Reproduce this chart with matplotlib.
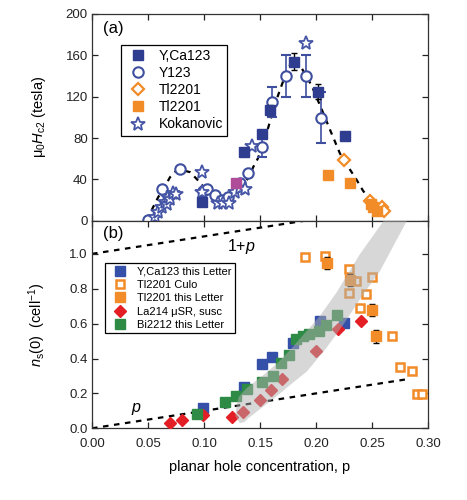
import matplotlib
matplotlib.use('Agg')
import matplotlib.pyplot as plt
from matplotlib.lines import Line2D

plt.rcParams['font.family'] = ['Liberation Sans', 'DejaVu Sans']
plt.rcParams['mathtext.fontset'] = 'custom'
plt.rcParams['mathtext.rm'] = 'Liberation Sans'
plt.rcParams['mathtext.it'] = 'Liberation Sans:italic'

# ---- panel (a): upper critical field ----
yca_p = [0.098, 0.136, 0.152, 0.159, 0.1806, 0.2018, 0.226]
yca_h = [18.4, 66, 84, 107, 154, 125, 82]
yca_err = [3, 0, 4, 5, 8, 7, 0]

odd_p = [0.129]
odd_h = [36.2]

y123_p = [0.0503, 0.0622, 0.0786, 0.0994, 0.1024, 0.110, 0.1158, 0.1217, 0.132, 0.1396,
          0.152, 0.161, 0.1732, 0.191, 0.2045]
y123_h = [0.7, 30.4, 50, 29, 30.4, 24.9, 20, 23.2, 36.2, 45.9,
          71, 115, 140, 140, 99.7]
y123_err = [0, 0, 0, 0, 0, 0, 0, 0, 0, 0, 9, 14.5, 20, 20, 25]

tl_open_p = [0.225, 0.248, 0.2586, 0.2607]
tl_open_h = [59, 19.4, 13, 9]
tl_fill_p = [0.2104, 0.230, 0.249, 0.251, 0.2548]
tl_fill_h = [44.3, 36, 16, 13, 9.7]

kok_p = [0.0563, 0.0590, 0.0622, 0.0650, 0.0670, 0.0682, 0.0700, 0.0726, 0.0750,
         0.098, 0.098, 0.1128, 0.117, 0.1226, 0.128, 0.132, 0.1366, 0.1426, 0.191]
kok_h = [3.9, 8.7, 13.6, 18.4, 16, 23.2, 21, 26.5, 26,
         47.4, 28, 16.8, 16.8, 16.8, 28, 31.3, 30.4, 72.6, 172]

guide_p = [0.050, 0.053, 0.059, 0.065, 0.0696, 0.074, 0.078, 0.082, 0.0875, 0.092, 0.0964,
           0.100, 0.105, 0.110, 0.115, 0.120, 0.125, 0.130, 0.135, 0.140, 0.144, 0.148,
           0.152, 0.156, 0.1634, 0.168, 0.174, 0.180, 0.187, 0.196, 0.2065, 0.2125,
           0.2214, 0.2288, 0.236, 0.242, 0.251, 0.258]
guide_h = [0, 9.7, 22.6, 33, 42, 47, 49, 48.5, 47, 42, 37,
           32, 28, 25, 23, 23, 25, 29, 35, 42, 52, 60,
           72, 85, 113, 127, 145, 157, 148, 131, 104, 88,
           65, 52, 40, 29, 16, 10]

# ---- panel (b): superfluid density ----
ycab_p = [0.0988, 0.1357, 0.1515, 0.1604, 0.1798, 0.2036, 0.225]
ycab_n = [0.118, 0.236, 0.37, 0.406, 0.489, 0.613, 0.603]

culo_p = [0.1902, 0.208, 0.2298, 0.2354, 0.2295, 0.2503, 0.2446, 0.2396, 0.2676,
          0.2753, 0.2854, 0.2899, 0.2949]
culo_n = [0.98, 0.986, 0.916, 0.847, 0.776, 0.866, 0.77, 0.687, 0.529,
          0.35, 0.329, 0.196, 0.196]

tlb_p = [0.210, 0.2304, 0.2503, 0.254]
tlb_n = [0.948, 0.848, 0.676, 0.527]
tlb_err = [0.036, 0.034, 0.035, 0.036]

la_p = [0.0696, 0.080, 0.0994, 0.1247, 0.1345, 0.150, 0.1595, 0.170, 0.1997, 0.22, 0.2399]
la_n = [0.029, 0.048, 0.076, 0.067, 0.096, 0.163, 0.22, 0.282, 0.444, 0.569, 0.617]

bi_p = [0.094, 0.119, 0.129, 0.138, 0.152, 0.162, 0.169, 0.176, 0.182, 0.188, 0.194,
        0.203, 0.2089, 0.2185]
bi_n = [0.08, 0.149, 0.186, 0.224, 0.264, 0.30, 0.373, 0.421, 0.513, 0.527, 0.542,
        0.555, 0.594, 0.647]

band_p = [0.132, 0.128, 0.129, 0.131, 0.138, 0.152, 0.165, 0.177, 0.190, 0.2036, 0.2185,
          0.239, 0.2616, 0.282, 0.257, 0.242, 0.2244, 0.208, 0.1917, 0.177, 0.168,
          0.158, 0.148, 0.140, 0.136]
band_n = [0.03, 0.07, 0.13, 0.18, 0.23, 0.30, 0.37, 0.45, 0.545, 0.645, 0.78,
          0.996, 1.20, 1.20, 0.90, 0.766, 0.594, 0.45, 0.325, 0.249, 0.20,
          0.15, 0.10, 0.06, 0.035]

line_p = [0.0, 0.283]
upper_p = [0.0, 0.2]

navy = '#2e3d8f'
cblue = '#3f4f9f'
orange = '#f28c28'
blue = '#3550a8'
green = '#2e8b45'
red = '#e31e24'

fig = plt.figure(figsize=(4.67, 5.0), dpi=100)
ax1 = fig.add_axes([0.197, 0.5586, 0.7195, 0.4134])
ax2 = fig.add_axes([0.197, 0.1434, 0.7195, 0.4152])

ax1.plot(guide_p, guide_h, 'k--', lw=1.6, dashes=(2.5, 2.5), zorder=1)
ax1.errorbar(y123_p, y123_h, yerr=y123_err, fmt='o', ms=7.5, mfc='white', mec=cblue,
             mew=1.5, ecolor=cblue, elinewidth=1.2, capsize=3.5, zorder=3)
ax1.plot(kok_p, kok_h, '*', ms=10.5, mfc='white', mec='#4656a6', mew=1.3, zorder=4)
ax1.errorbar(yca_p, yca_h, yerr=yca_err, fmt='s', ms=6.5, mfc=navy, mec=navy,
             ecolor='black', elinewidth=1.0, capsize=2.5, zorder=5)
ax1.plot(odd_p, odd_h, 's', ms=6.5, mfc='#b04d9a', mec='#b04d9a', zorder=5)
ax1.plot(tl_open_p, tl_open_h, 'D', ms=6, mfc='white', mec=orange, mew=1.6, zorder=4)
ax1.plot(tl_fill_p, tl_fill_h, 's', ms=6.5, mfc=orange, mec=orange, zorder=4)

h1 = [Line2D([], [], ls='', marker='s', ms=6.5, mfc=navy, mec=navy),
      Line2D([], [], ls='', marker='o', ms=7.5, mfc='white', mec=cblue, mew=1.5),
      Line2D([], [], ls='', marker='D', ms=6, mfc='white', mec=orange, mew=1.6),
      Line2D([], [], ls='', marker='s', ms=6.5, mfc=orange, mec=orange),
      Line2D([], [], ls='', marker='*', ms=10.5, mfc='white', mec='#4656a6', mew=1.3)]
lab1 = ['Y,Ca123', 'Y123', 'Tl2201', 'Tl2201', 'Kokanovic']
leg1 = ax1.legend(h1, lab1, loc='upper left', bbox_to_anchor=(0.085, 0.85),
                  borderaxespad=0, fontsize=10, frameon=True, fancybox=False,
                  edgecolor='black', framealpha=1, labelspacing=0.22,
                  handlelength=1.9, handletextpad=0.55, borderpad=0.3)
leg1.get_frame().set_linewidth(0.9)
leg1.set_zorder(10)

ax1.set_xlim(0, 0.30)
ax1.set_ylim(0, 200)
ax1.set_yticks([0, 40, 80, 120, 160, 200])
ax1.set_xticks([0.0, 0.05, 0.10, 0.15, 0.20, 0.25, 0.30])
ax1.tick_params(labelbottom=False)
ax1.set_ylabel('μ$_0$$H_{\\rm c2}$ (tesla)', fontsize=10.5)
ax1.text(0.033, 0.965, '(a)', transform=ax1.transAxes, fontsize=12, va='top', ha='left')

# panel (b)
ax2.plot(upper_p, [1 + v for v in upper_p], 'k--', lw=1.6, dashes=(2.5, 2.5), zorder=1)
ax2.plot(line_p, line_p, 'k--', lw=1.6, dashes=(2.5, 2.5), zorder=1)
ax2.plot(ycab_p, ycab_n, 's', ms=6.5, mfc=blue, mec=blue, zorder=3)
ax2.plot(culo_p, culo_n, 's', ms=6, mfc='white', mec=orange, mew=1.8, zorder=3)
ax2.errorbar(tlb_p, tlb_n, yerr=tlb_err, fmt='s', ms=6.5, mfc=orange, mec=orange,
             ecolor='black', elinewidth=1.0, capsize=2.5, zorder=3)
ax2.plot(la_p, la_n, 'D', ms=6.5, mfc=red, mec=red, zorder=3)
ax2.plot(bi_p, bi_n, 's', ms=6.5, mfc=green, mec=green, zorder=3)
ax2.fill(band_p, band_n, color='#b0b0b0', alpha=0.5, lw=0, zorder=6)

h2 = [Line2D([], [], ls='', marker='s', ms=6.5, mfc=blue, mec=blue),
      Line2D([], [], ls='', marker='s', ms=6, mfc='white', mec=orange, mew=1.8),
      Line2D([], [], ls='', marker='s', ms=6.5, mfc=orange, mec=orange),
      Line2D([], [], ls='', marker='D', ms=6.5, mfc=red, mec=red),
      Line2D([], [], ls='', marker='s', ms=6.5, mfc=green, mec=green)]
lab2 = ['Y,Ca123 this Letter', 'Tl2201 Culo', 'Tl2201 this Letter',
        'La214 μSR, susc', 'Bi2212 this Letter']
leg2 = ax2.legend(h2, lab2, loc='upper left', bbox_to_anchor=(0.0387, 0.795),
                  borderaxespad=0, fontsize=8.0, frameon=True, fancybox=False,
                  edgecolor='black', framealpha=1, labelspacing=0.3,
                  handlelength=2.1, handletextpad=0.45, borderpad=0.3)
leg2.get_frame().set_linewidth(0.9)
leg2.set_zorder(10)

ax2.text(0.1335, 1.04, '1+$p$', fontsize=11.5, ha='center', va='center')
ax2.text(0.04, 0.11, '$p$', fontsize=11.5, ha='center', va='center')
ax2.text(0.033, 0.975, '(b)', transform=ax2.transAxes, fontsize=12, va='top', ha='left')

ax2.set_xlim(0, 0.30)
ax2.set_ylim(0, 1.19)
ax2.set_xticks([0.0, 0.05, 0.10, 0.15, 0.20, 0.25, 0.30])
ax2.set_xticklabels(['0.00', '0.05', '0.10', '0.15', '0.20', '0.25', '0.30'])
ax2.set_yticks([0.0, 0.2, 0.4, 0.6, 0.8, 1.0])
ax2.set_yticklabels(['0.0', '0.2', '0.4', '0.6', '0.8', '1.0'])
ax2.set_xlabel('planar hole concentration, p', fontsize=10.5, labelpad=7)
ax2.set_ylabel('$n_{\\rm s}$(0)  (cell$^{-1}$)', fontsize=10.5)

for ax in (ax1, ax2):
    ax.tick_params(direction='in', top=True, right=True, length=4, width=0.9,
                   labelsize=9.5, colors='#222222', pad=3)
    for s in ax.spines.values():
        s.set_linewidth(0.9)
        s.set_color('#333333')
ax2.tick_params(axis='x', pad=7)

ax1.yaxis.set_label_coords(-0.13, 0.5)
ax2.yaxis.set_label_coords(-0.13, 0.5)

fig.savefig('out.png', dpi=100)
